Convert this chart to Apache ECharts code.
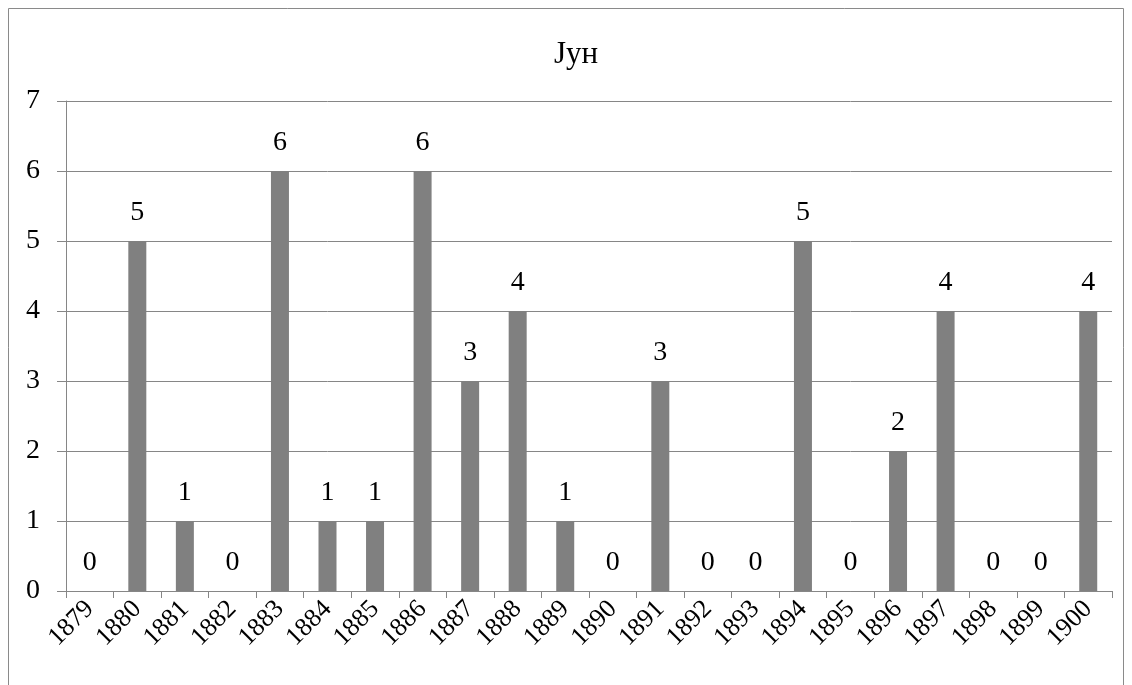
<!DOCTYPE html>
<html><head><meta charset="utf-8">
<script src="https://cdn.jsdelivr.net/npm/echarts@6/dist/echarts.min.js"></script>
<style>html,body{margin:0;padding:0;background:#fff}#c{width:1132px;height:685px}</style>
</head><body><div id="c"></div>
<script>
const title = 'Јун';
const categories = ['1879','1880','1881','1882','1883','1884','1885','1886','1887','1888','1889','1890','1891','1892','1893','1894','1895','1896','1897','1898','1899','1900'];
const values = [0,5,1,0,6,1,1,6,3,4,1,0,3,0,0,5,0,2,4,0,0,4];
const yTicks = [0,1,2,3,4,5,6,7];
const font = '"Liberation Serif","Times New Roman",serif';
const chart = echarts.init(document.getElementById('c'), null, {renderer:'canvas'});
chart.setOption({
  animation:false,
  backgroundColor:'#fff',
  title:{text:title,left:571,top:34,textAlign:'center',textStyle:{fontFamily:font,fontSize:31,fontWeight:'normal',color:'#000'}},
  graphic:[{type:'rect',shape:{x:8.5,y:8.5,width:1115,height:700},style:{fill:'none',stroke:'#8a8a8a',lineWidth:1},silent:true}],
  grid:{left:66,right:20,top:101,bottom:94,containLabel:false},
  xAxis:{type:'category',data:categories,boundaryGap:true,
    axisLine:{lineStyle:{color:'#868686',width:1}},
    axisTick:{show:true,length:7,lineStyle:{color:'#868686'}},
    axisLabel:{rotate:45,fontFamily:font,fontSize:26,color:'#000',margin:14,interval:0}},
  yAxis:{type:'value',min:0,max:7,interval:1,
    axisLine:{show:true,lineStyle:{color:'#868686'}},
    axisTick:{show:true,length:9,lineStyle:{color:'#868686'}},
    splitLine:{lineStyle:{color:'#868686',width:1}},
    axisLabel:{fontFamily:font,fontSize:28,color:'#000',margin:26,
      formatter:v=>yTicks.includes(v)?String(v):''}},
  series:[{type:'bar',data:values,barWidth:18,itemStyle:{color:'#808080'},
    label:{show:true,position:'top',distance:14,fontFamily:font,fontSize:28,color:'#000'}}]
});
</script></body></html>
